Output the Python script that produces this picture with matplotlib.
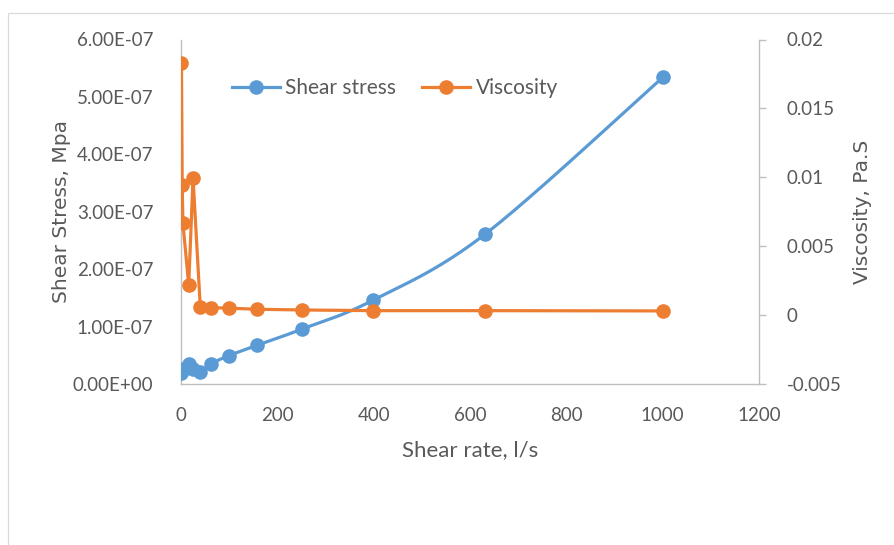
import numpy as np
import matplotlib
matplotlib.use("Agg")
import matplotlib.pyplot as plt
from matplotlib.patches import Rectangle

# ---- data ----
shear_rate = [1, 2.5, 4, 16, 25, 40, 63, 100, 158, 251, 398, 631, 1000]
shear_stress = [0.19e-7, 0.23e-7, 0.26e-7, 0.36e-7, 0.27e-7, 0.21e-7, 0.36e-7,
                0.50e-7, 0.68e-7, 0.96e-7, 1.46e-7, 2.61e-7, 5.34e-7]
viscosity = [0.0183, 0.00946, 0.00668, 0.0022, 0.00995, 0.00063, 0.00056,
             0.00052, 0.00044, 0.00039, 0.00034, 0.00034, 0.00032]
left_ticks = [0, 1e-7, 2e-7, 3e-7, 4e-7, 5e-7, 6e-7]
left_labels = ["0.00E+00", "1.00E-07", "2.00E-07", "3.00E-07", "4.00E-07", "5.00E-07", "6.00E-07"]
right_ticks = [-0.005, 0, 0.005, 0.01, 0.015, 0.02]
right_labels = ["-0.005", "0", "0.005", "0.01", "0.015", "0.02"]
x_ticks = [0, 200, 400, 600, 800, 1000, 1200]

BLUE = "#5B9BD5"
ORANGE = "#ED7D31"
GRID = "#BFBFBF"
TXT = "#595959"

plt.rcParams['font.family'] = ['Lato', 'DejaVu Sans']

W, H = 894, 545
fig = plt.figure(figsize=(W / 100, H / 100), dpi=100)

# outer chart border (only left/top visible)
fig.patches.append(Rectangle((8 / W, -0.1), 1.2, (545 - 12.7) / H + 0.1,
                             transform=fig.transFigure, fill=False,
                             edgecolor="#D9D9D9", lw=0.9))

ax = fig.add_axes([181 / W, 1 - 384.3 / H, (759 - 181) / W, (384.3 - 39.5) / H])
ax2 = ax.twinx()

xlim = (0, 1200)
ylim = (0, 6e-7)
ylim2 = (-0.005, 0.02)


def smooth(xs, ys, xr, yr, n=30):
    # Excel-like smoothed line: Catmull-Rom Bezier in normalized display space
    px = (np.asarray(xs, float) - xr[0]) / (xr[1] - xr[0]) * 578
    py = (np.asarray(ys, float) - yr[0]) / (yr[1] - yr[0]) * 345
    P = np.column_stack([px, py])
    out = [P[0]]
    for i in range(len(P) - 1):
        p0 = P[i - 1] if i > 0 else P[i]
        p1, p2 = P[i], P[i + 1]
        p3 = P[i + 2] if i + 2 < len(P) else P[i + 1]
        c1 = p1 + (p2 - p0) / 6
        c2 = p2 - (p3 - p1) / 6
        t = np.linspace(0, 1, n)[1:, None]
        seg = ((1 - t) ** 3) * p1 + 3 * ((1 - t) ** 2) * t * c1 + 3 * (1 - t) * t ** 2 * c2 + t ** 3 * p2
        out.extend(seg)
    out = np.array(out)
    sx = out[:, 0] / 578 * (xr[1] - xr[0]) + xr[0]
    sy = out[:, 1] / 345 * (yr[1] - yr[0]) + yr[0]
    return sx, sy


MS = 9.5
LW = 2.3
sx, sy = smooth(shear_rate, shear_stress, xlim, ylim)
ax.plot(sx, sy, color=BLUE, lw=LW, solid_capstyle='round', zorder=3)
ax.plot(shear_rate, shear_stress, linestyle='none', marker='o', ms=MS,
        color=BLUE, zorder=4)
ax2.plot(shear_rate, viscosity, color=ORANGE, lw=LW, marker='o', ms=MS, zorder=3)

ax.set_xlim(*xlim)
ax.set_ylim(*ylim)
ax2.set_ylim(*ylim2)

ax.set_xticks(x_ticks)
ax.set_xticklabels([str(v) for v in x_ticks])
ax.set_yticks(left_ticks)
ax.set_yticklabels(left_labels)
ax2.set_yticks(right_ticks)
ax2.set_yticklabels(right_labels)

for a in (ax, ax2):
    for s in a.spines.values():
        s.set_visible(False)
    a.set_facecolor('none')
ax.spines['left'].set_visible(True)
ax.spines['bottom'].set_visible(True)
ax2.spines['right'].set_visible(True)
for s in (ax.spines['left'], ax.spines['bottom'], ax2.spines['right']):
    s.set_color(GRID)
    s.set_linewidth(1.0)

fs = 13.5
ax.tick_params(axis='y', length=0, pad=20, labelsize=fs, labelcolor=TXT)
ax.tick_params(axis='x', length=0, pad=16, labelsize=fs, labelcolor=TXT)
ax2.tick_params(axis='y', length=5, width=1, color=GRID, pad=15, labelsize=fs, labelcolor=TXT)

ax.set_xlabel("Shear rate, l/s", fontsize=16, color=TXT, labelpad=12)
ax.set_ylabel("Shear Stress, Mpa", fontsize=14.5, color=TXT, labelpad=1.5,
              family=['DejaVu Sans'])
ax2.set_ylabel("Viscosity, Pa.S", fontsize=14.5, color=TXT, labelpad=8,
               family=['DejaVu Sans'])

h1 = plt.Line2D([], [], color=BLUE, lw=LW, marker='o', ms=MS)
h2 = plt.Line2D([], [], color=ORANGE, lw=LW, marker='o', ms=MS)
leg = fig.legend([h1, h2], ["Shear stress", "Viscosity"], loc='center',
                 bbox_to_anchor=(395 / W, 1 - 88 / H), ncol=2, frameon=False,
                 fontsize=15, handlelength=2.3, handletextpad=0.25,
                 columnspacing=1.25, labelcolor=TXT)

fig.savefig("out.png", dpi=100)
